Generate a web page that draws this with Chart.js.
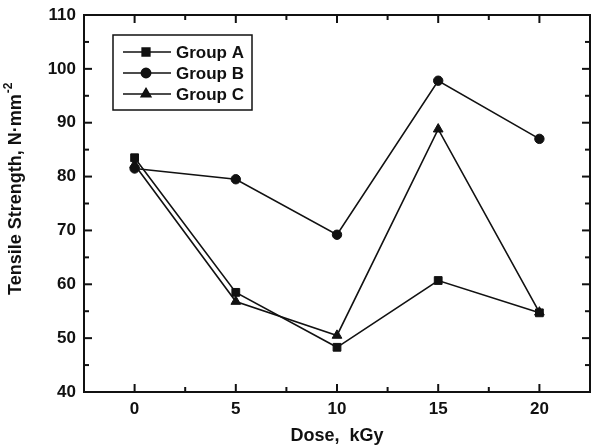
<!DOCTYPE html>
<html>
<head>
<meta charset="utf-8">
<script src="https://cdn.jsdelivr.net/npm/chart.js@4/dist/chart.umd.min.js"></script>
<style>
  html, body { margin: 0; padding: 0; background: #fff; }
  #wrap { width: 591px; height: 448px; }
</style>
</head>
<body>
<div id="wrap"><canvas id="tensileChart" width="591" height="448"></canvas></div>
<script>
// dose values (kGy) and tensile strength of each group
const doses = [0, 5, 10, 15, 20];
const groupA = [83.5, 58.5, 48.3, 60.7, 54.7];
const groupB = [81.5, 79.5, 69.2, 97.8, 87.0];
const groupC = [82.2, 56.8, 50.5, 88.8, 54.8];

const xTicks = [0, 5, 10, 15, 20];
const xMinor = [2.5, 7.5, 12.5, 17.5];
const yTicks = [40, 50, 60, 70, 80, 90, 100, 110];
const yMinor = [45, 55, 65, 75, 85, 95, 105];

const ink = '#111111';
const family = '"Liberation Sans", Arial, sans-serif';
const tickFont = { family: family, size: 17, weight: 'bold' };
const titleFont = { family: family, size: 18, weight: 'bold' };

function toPoints(ys) {
    return doses.map((d, i) => ({ x: d, y: ys[i] }));
}

function series(label, ys, style, radius) {
    return {
        label: label,
        data: toPoints(ys),
        borderColor: ink,
        backgroundColor: ink,
        borderWidth: 1.6,
        pointStyle: style,
        pointRadius: radius,
        pointBorderWidth: 1,
        tension: 0
    };
}

// frame + inward ticks on all four sides, y title with superscript, legend box
const framePlugin = {
    id: 'frame',
    afterDatasetsDraw(chart) {
        const c = chart.ctx;
        const a = chart.chartArea;
        const xs = chart.scales.x, ys = chart.scales.y;
        c.save();
        c.strokeStyle = ink;
        c.lineWidth = 2;
        c.strokeRect(a.left, a.top, a.right - a.left, a.bottom - a.top);

        const tick = (x1, y1, x2, y2) => {
            c.beginPath(); c.moveTo(x1, y1); c.lineTo(x2, y2); c.stroke();
        };
        xTicks.forEach(v => {
            const p = xs.getPixelForValue(v);
            tick(p, a.bottom, p, a.bottom - 8);
            tick(p, a.top, p, a.top + 8);
        });
        xMinor.forEach(v => {
            const p = xs.getPixelForValue(v);
            tick(p, a.bottom, p, a.bottom - 5);
            tick(p, a.top, p, a.top + 5);
        });
        yTicks.forEach(v => {
            const p = ys.getPixelForValue(v);
            tick(a.left, p, a.left + 8, p);
            tick(a.right, p, a.right - 8, p);
        });
        yMinor.forEach(v => {
            const p = ys.getPixelForValue(v);
            tick(a.left, p, a.left + 5, p);
            tick(a.right, p, a.right - 5, p);
        });

        // y axis title
        c.save();
        c.translate(21, 295);
        c.rotate(-Math.PI / 2);
        c.fillStyle = ink;
        c.textBaseline = 'alphabetic';
        c.textAlign = 'left';
        c.font = 'bold 18px ' + family;
        const main = 'Tensile Strength, N·mm';
        c.fillText(main, 0, 0);
        const w = c.measureText(main).width;
        c.font = 'bold 12px ' + family;
        c.fillText('-2', w + 1, -9);
        c.restore();

        // legend
        c.lineWidth = 1.5;
        c.strokeRect(113, 35, 139, 75);
        c.font = 'bold 17px ' + family;
        c.textBaseline = 'middle';
        c.textAlign = 'left';
        chart.data.datasets.forEach((ds, i) => {
            const y = 52 + i * 21;
            c.lineWidth = 1.5;
            tick(123, y, 171, y);
            Chart.helpers.drawPoint(c, {
                pointStyle: ds.pointStyle, radius: ds.pointRadius, rotation: 0, borderWidth: 1
            }, 146, y);
            c.fillStyle = ink;
            c.fill();
            c.fillText(ds.label, 176, y + 1);
        });
        c.restore();
    }
};

const ctx = document.getElementById('tensileChart').getContext('2d');
const tensileChart = new Chart(ctx, {
    type: 'line',
    data: {
        datasets: [
            series('Group A', groupA, 'rect', 5.5),
            series('Group B', groupB, 'circle', 4.7),
            series('Group C', groupC, 'triangle', 5.6)
        ]
    },
    options: {
        responsive: false,
        animation: false,
        layout: { autoPadding: false, padding: { top: 15, right: 1, left: 0, bottom: 0 } },
        plugins: {
            legend: { display: false },
            tooltip: { enabled: false }
        },
        scales: {
            x: {
                type: 'linear',
                min: -2.5,
                max: 22.5,
                afterBuildTicks: s => { s.ticks = xTicks.map(v => ({ value: v })); },
                afterFit: s => { s.height = 56; s.paddingRight = 0; s.paddingLeft = 0; },
                grid: { display: false, drawTicks: false },
                border: { display: false },
                ticks: { color: ink, font: tickFont, padding: 7, maxRotation: 0 },
                title: { display: true, text: 'Dose,  kGy', color: ink, font: titleFont, padding: { top: 2, bottom: 1 } }
            },
            y: {
                min: 40,
                max: 110,
                afterBuildTicks: s => { s.ticks = yTicks.map(v => ({ value: v })); },
                afterFit: s => { s.width = 84; s.paddingTop = 0; s.paddingBottom = 0; },
                grid: { display: false, drawTicks: false },
                border: { display: false },
                ticks: { color: ink, font: tickFont, padding: 8 }
            }
        }
    },
    plugins: [framePlugin]
});
</script>
</body>
</html>
